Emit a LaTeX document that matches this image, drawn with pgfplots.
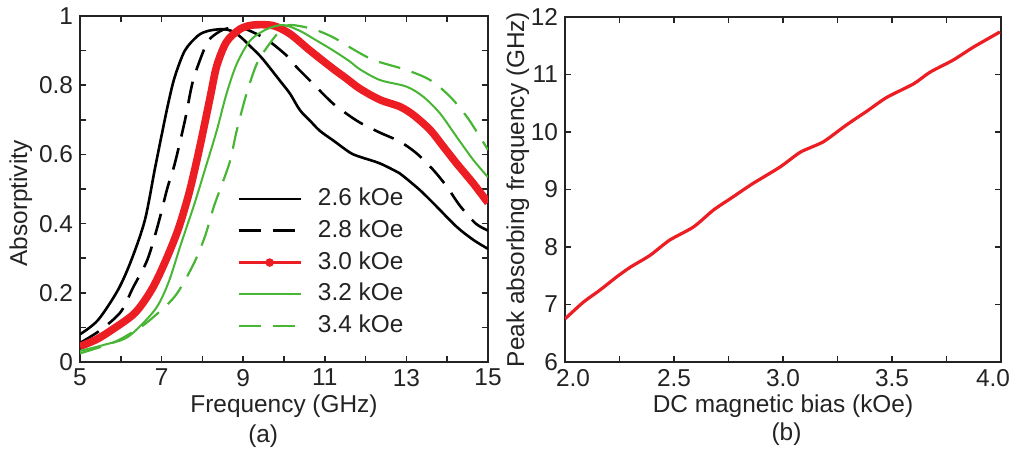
\documentclass[border=0pt]{standalone}
\usepackage{pgfplots}
\pgfplotsset{compat=1.18}
\usepackage{fontspec}
\setmainfont{Liberation Sans}

\definecolor{cred}{RGB}{236,30,36}
\definecolor{cgreen}{RGB}{72,182,52}
\definecolor{ink}{RGB}{35,35,35}

\newcommand{\lblfont}{\fontsize{12.2}{14.6}\selectfont}

\pgfplotsset{
  panel/.style={
    scale only axis,
    clip mode=individual,
    axis line style={ink, line width=1pt},
    every tick/.style={ink, line width=0.8pt},
    major tick length=3pt,
    tick align=inside,
    tick label style={font=\lblfont, text=ink},
    label style={font=\lblfont, text=ink},
  },
}

\begin{document}
\begin{tikzpicture}
\path[use as bounding box] (0pt,0pt) rectangle (508.5pt,225.5pt);

% (a) absorptivity spectra for several bias fields
\begin{axis}[panel,
  at={(40pt,44.5pt)}, anchor=south west,
  width=204pt, height=173pt,
  xmin=5, xmax=15, ymin=0, ymax=1,
  xtick={5,6,7,8,9,10,11,12,13,14,15},
  xticklabels={5,,7,,9,,11,,13,,15},
  ytick={0,0.1,0.2,0.3,0.4,0.5,0.6,0.7,0.8,0.9,1},
  yticklabels={0,,0.2,,0.4,,0.6,,0.8,,1},
  xlabel={Frequency (GHz)},
  xlabel style={at={(axis description cs:0.5,-0.146)}, anchor=base},
  ylabel={Absorptivity},
  ylabel style={at={(axis description cs:-0.145,0.458)}, anchor=center},
  legend image code/.code={\draw[mark repeat=2,mark phase=2,#1]
      plot coordinates {(0pt,0pt) (15.5pt,0pt) (31pt,0pt)};},
  legend style={draw=none, fill=none, font=\lblfont, text=ink,
    at={(axis description cs:0.37,0.523)}, anchor=north west,
    nodes={inner sep=1pt, text height=9pt, text depth=2.5pt},
    row sep=2.4pt,
    /tikz/every odd column/.append style={column sep=7pt}},
  legend cell align=left,
]
\addplot[black, line width=1.3pt, smooth, tension=0.5] coordinates {
 (5.0,0.080) (5.44,0.121) (5.93,0.208) (6.26,0.295) (6.59,0.41) (6.83,0.555)
 (7.0,0.655) (7.16,0.746) (7.32,0.823) (7.57,0.90) (7.89,0.943) (8.14,0.957)
 (8.5,0.962) (8.75,0.955) (8.95,0.938) (9.17,0.913) (9.41,0.885) (9.58,0.861)
 (9.90,0.813) (10.15,0.775) (10.39,0.728) (10.64,0.697) (10.88,0.668)
 (11.21,0.640) (11.62,0.605) (11.86,0.593) (12.35,0.574) (12.84,0.545)
 (13.0,0.530) (13.33,0.497) (13.66,0.459) (14.23,0.391) (14.64,0.353) (15.0,0.327)
};
\addlegendentry{2.6 kOe}
\addplot[black, line width=1.3pt, dash pattern=on 11pt off 6pt, smooth, tension=0.5] coordinates {
 (5.0,0.055) (5.5,0.092) (6.0,0.145) (6.3,0.215) (6.65,0.295) (6.91,0.396)
 (7.14,0.502) (7.32,0.572) (7.57,0.697) (7.77,0.813) (8.06,0.909) (8.19,0.935)
 (8.5,0.960) (8.9,0.968) (9.33,0.948) (9.66,0.925) (10.07,0.885) (10.31,0.852)
 (10.64,0.813) (10.88,0.784) (11.21,0.746) (11.54,0.717) (11.86,0.692)
 (12.35,0.663) (12.84,0.637) (13.25,0.603) (13.66,0.555) (13.99,0.507)
 (14.31,0.452) (14.70,0.400) (15.0,0.380)
};
\addlegendentry{2.8 kOe}
\addplot[cred, line width=3.8pt, smooth, tension=0.5, forget plot] coordinates {
 (5.0,0.045) (5.4,0.065) (5.77,0.092) (6.34,0.141) (6.75,0.208) (7.07,0.285)
 (7.40,0.381) (7.65,0.478) (7.81,0.555) (7.97,0.640) (8.19,0.765) (8.35,0.855)
 (8.59,0.925) (8.92,0.962) (9.25,0.974) (9.74,0.972) (10.15,0.948) (10.64,0.900)
 (11.21,0.847) (11.50,0.822) (11.86,0.790) (12.35,0.758) (12.84,0.738)
 (13.17,0.714) (13.58,0.671) (13.91,0.622) (14.23,0.574) (14.64,0.516) (15.0,0.460)
};
\addlegendimage{cred, line width=1.2pt, mark=*, mark size=1.5pt, mark options={solid}}
\addlegendentry{3.0 kOe}
\addplot[cgreen, line width=1pt, smooth, tension=0.5] coordinates {
 (5.0,0.032) (5.6,0.050) (6.18,0.073) (6.83,0.150) (7.16,0.227) (7.48,0.343)
 (7.81,0.459) (8.06,0.555) (8.35,0.668) (8.59,0.775) (8.84,0.861) (9.17,0.929)
 (9.58,0.962) (9.98,0.974) (10.39,0.957) (10.80,0.929) (11.21,0.900)
 (11.62,0.868) (11.86,0.846) (12.35,0.815) (13.0,0.796) (13.41,0.767)
 (13.82,0.719) (14.23,0.651) (14.64,0.584) (15.0,0.534)
};
\addlegendentry{3.2 kOe}
\addplot[cgreen, line width=1.1pt, dash pattern=on 11pt off 6pt, smooth, tension=0.5] coordinates {
 (5.0,0.025) (5.77,0.054) (6.2,0.080) (6.67,0.117) (7.32,0.189) (7.77,0.280)
 (8.06,0.362) (8.28,0.449) (8.50,0.520) (8.68,0.582) (8.84,0.668) (9.08,0.775)
 (9.33,0.861) (9.58,0.909) (9.90,0.957) (10.15,0.974) (10.72,0.962)
 (11.21,0.938) (11.62,0.909) (12.19,0.873) (13.0,0.844) (13.58,0.815)
 (14.07,0.767) (14.48,0.709) (14.80,0.651) (15.0,0.613)
};
\addlegendentry{3.4 kOe}
\node[font=\lblfont, text=ink, anchor=base] at (axis description cs:0.449,-0.234) {(a)};
\end{axis}

% (b) peak frequency versus bias field
\begin{axis}[panel,
  at={(282.5pt,44.5pt)}, anchor=south west,
  width=218pt, height=172.5pt,
  xmin=2, xmax=4, ymin=6, ymax=12,
  xtick={2,2.25,2.5,2.75,3,3.25,3.5,3.75,4},
  xticklabels={\hspace*{8pt}2.0,,2.5,,3.0,,3.5,,4.0\hspace*{8pt}},
  ytick={6,7,8,9,10,11,12},
  yticklabels={6,7,8,9,10,11,12},
  xlabel={DC magnetic bias (kOe)},
  xlabel style={at={(axis description cs:0.5,-0.145)}, anchor=base},
  ylabel={Peak absorbing frequency (GHz)},
  ylabel style={at={(axis description cs:-0.108,0.5)}, anchor=center},
]
\addplot[cred, line width=1.6pt, smooth, tension=0.4] coordinates {
 (2.0,6.75) (2.084,7.04) (2.16,7.25) (2.237,7.48) (2.30,7.65) (2.39,7.855)
 (2.48,8.12) (2.59,8.35) (2.68,8.64) (2.77,8.87) (2.86,9.10) (2.986,9.39)
 (3.08,9.65) (3.185,9.83) (3.29,10.12) (3.38,10.35) (3.475,10.60) (3.60,10.84)
 (3.674,11.04) (3.78,11.25) (3.875,11.48) (3.995,11.74)
};
\node[font=\lblfont, text=ink, anchor=base] at (axis description cs:0.508,-0.228) {(b)};
\end{axis}
\end{tikzpicture}
\end{document}
